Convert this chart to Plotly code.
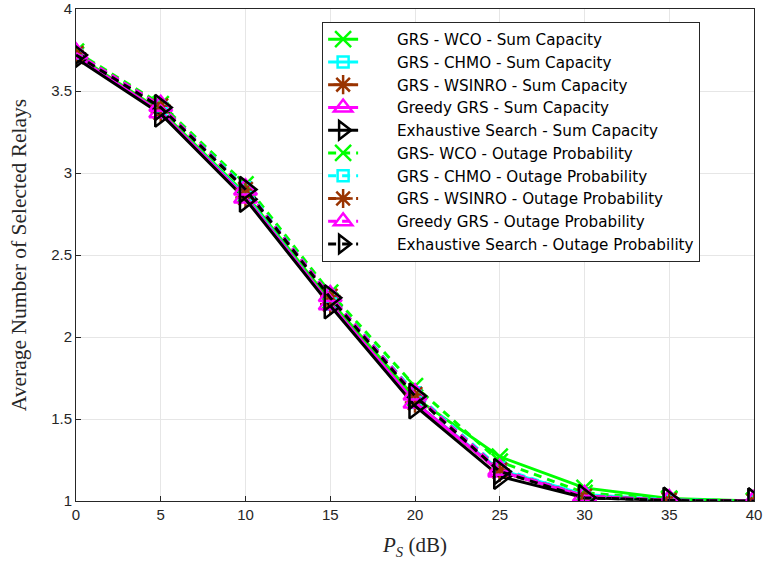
import plotly.graph_objects as go

ps_db = [0, 5, 10, 15, 20, 25, 30, 35, 40]

names = [
    "GRS - WCO - Sum Capacity",
    "GRS - CHMO - Sum Capacity",
    "GRS - WSINRO - Sum Capacity",
    "Greedy GRS - Sum Capacity",
    "Exhaustive Search - Sum Capacity",
    "GRS- WCO - Outage Probability",
    "GRS - CHMO - Outage Probability",
    "GRS - WSINRO - Outage Probability",
    "Greedy GRS - Outage Probability",
    "Exhaustive Search - Outage Probability",
]

wco_sum = [3.72, 3.38, 2.87, 2.22, 1.63, 1.27, 1.08, 1.015, 1.00]
chmo_sum = [3.71, 3.37, 2.86, 2.20, 1.60, 1.19, 1.04, 1.008, 1.00]
wsinro_sum = [3.71, 3.37, 2.85, 2.20, 1.60, 1.18, 1.03, 1.005, 1.00]
greedy_sum = [3.71, 3.37, 2.85, 2.20, 1.60, 1.18, 1.03, 1.005, 1.00]
exh_sum = [3.70, 3.36, 2.84, 2.19, 1.58, 1.15, 1.02, 1.005, 1.00]
wco_out = [3.74, 3.42, 2.93, 2.27, 1.70, 1.24, 1.05, 1.01, 1.00]
chmo_out = [3.73, 3.41, 2.91, 2.25, 1.66, 1.20, 1.035, 1.005, 1.00]
wsinro_out = [3.73, 3.41, 2.90, 2.25, 1.65, 1.19, 1.03, 1.005, 1.00]
greedy_out = [3.73, 3.41, 2.90, 2.25, 1.65, 1.19, 1.03, 1.005, 1.00]
exh_out = [3.72, 3.40, 2.90, 2.24, 1.64, 1.18, 1.02, 1.003, 1.00]

series = [wco_sum, chmo_sum, wsinro_sum, greedy_sum, exh_sum,
          wco_out, chmo_out, wsinro_out, greedy_out, exh_out]

colors = ["#00ff00", "#00ffff", "#993300", "#ff00ff", "#000000"] * 2
symbols = ["x-thin-open", "square-open", "asterisk-open", "triangle-up-open", "triangle-right-open"] * 2
sizes = [16, 11, 17, 20, 22] * 2
dashes = ["solid"] * 5 + ["8px,6px"] * 5

PAD = "\u00a0" * 7

fig = go.Figure()
for i in range(10):
    fig.add_trace(go.Scatter(
        x=ps_db, y=series[i], name=PAD + names[i], mode="lines+markers",
        line=dict(color=colors[i], width=3, dash=dashes[i]),
        marker=dict(symbol=symbols[i], size=sizes[i], color=colors[i],
                    line=dict(color=colors[i], width=2.5)),
    ))

axis_common = dict(
    showline=True, linecolor="#262626", linewidth=1, mirror=True,
    ticks="inside", ticklen=5, tickcolor="#262626",
    showgrid=True, gridcolor="#e6e6e6", gridwidth=1, zeroline=False,
    automargin=False,
    tickfont=dict(family="Liberation Sans, Arial", size=15, color="#262626"),
)

fig.update_layout(
    width=767, height=562,
    margin=dict(l=76, r=13, t=9, b=61),
    plot_bgcolor="white", paper_bgcolor="white",
    xaxis=dict(range=[0, 40], tickvals=[0, 5, 10, 15, 20, 25, 30, 35, 40],
               title=dict(text="<i>P</i><sub><i>S</i></sub> (dB)", standoff=15,
                          font=dict(family="Liberation Serif, DejaVu Serif", size=21, color="#262626")),
               **axis_common),
    yaxis=dict(range=[1, 4], tickvals=[1, 1.5, 2, 2.5, 3, 3.5, 4],
               ticktext=["1", "1.5", "2", "2.5", "3", "3.5", "4"],
               title=dict(text="Average Number of Selected Relays", standoff=18,
                          font=dict(family="Liberation Serif, DejaVu Serif", size=21.5, color="#262626")),
               **axis_common),
    legend=dict(x=0.363, y=0.974, xanchor="left", yanchor="top",
                bgcolor="white", bordercolor="#262626", borderwidth=1,
                font=dict(family="DejaVu Sans", size=15.2, color="#000000"),
                tracegroupgap=0),
    showlegend=True,
)

fig.write_html("out.html")
